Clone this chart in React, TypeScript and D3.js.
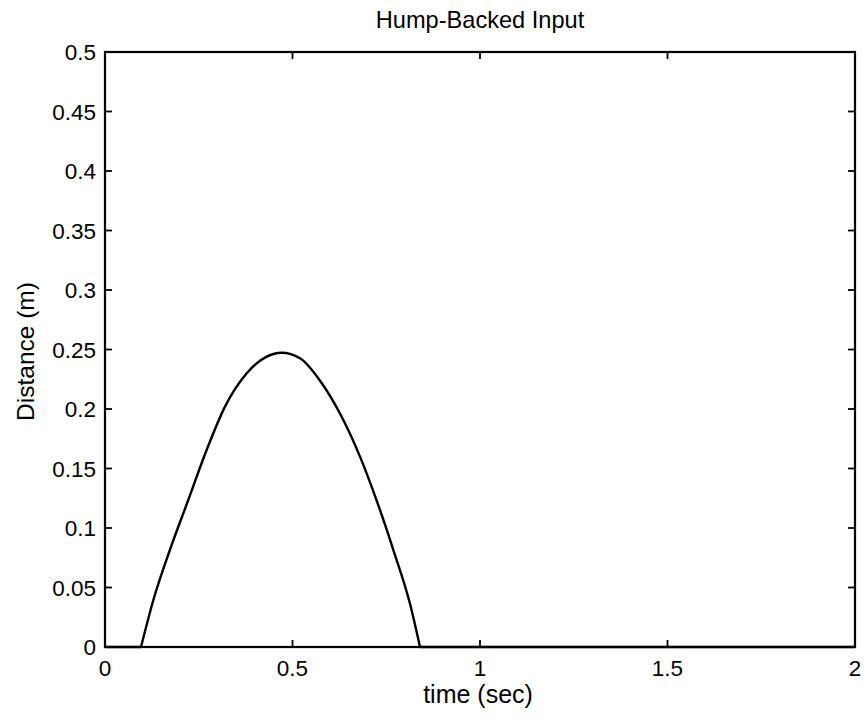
import React from "react";
import * as d3 from "d3";

const timeValues = [0, 0.096, 0.129, 0.173, 0.222, 0.271, 0.32, 0.378, 0.431, 0.471, 0.52, 0.573, 0.627, 0.68, 0.724, 0.769, 0.813, 0.84, 2];
const distanceValues = [0, 0, 0.0395, 0.0815, 0.1235, 0.1655, 0.202, 0.23, 0.244, 0.2473, 0.2426, 0.224, 0.196, 0.16, 0.1235, 0.0815, 0.0367, 0, 0];
const xTicks = [0, 0.5, 1, 1.5, 2];
const yTicks = [0, 0.05, 0.1, 0.15, 0.2, 0.25, 0.3, 0.35, 0.4, 0.45, 0.5];

const W = 868, H = 723;
const L = 105, R = 855, T = 52, B = 647;
const font = "'Liberation Sans', Arial, sans-serif";

export default function App() {
  const x = d3.scaleLinear().domain([0, 2]).range([L, R]);
  const y = d3.scaleLinear().domain([0, 0.5]).range([B, T]);
  const pts = timeValues.map((t, i) => [t, distanceValues[i]] as [number, number]);
  const n = pts.length;
  const hump = pts.slice(1, n - 1);
  const head = pts.slice(0, 2);
  const tail = pts.slice(n - 2);
  const curved = d3.line<[number, number]>().x(d => x(d[0])).y(d => y(d[1])).curve(d3.curveMonotoneX);
  const straight = d3.line<[number, number]>().x(d => x(d[0])).y(d => y(d[1]));
  const tl = 7;
  return (
    <svg width={W} height={H} style={{ position: "absolute", left: 0, top: 0, background: "#fff" }}>
      <rect x={0} y={0} width={W} height={H} fill="#fff" />
      <path d={straight(head) || ""} fill="none" stroke="#000" strokeWidth={2.4} />
      <path d={curved(hump) || ""} fill="none" stroke="#000" strokeWidth={2.4} strokeLinejoin="round" />
      <path d={straight(tail) || ""} fill="none" stroke="#000" strokeWidth={2.4} />
      <rect x={L} y={T} width={R - L} height={B - T} fill="none" stroke="#000" strokeWidth={2.2} />
      {xTicks.map(t => (
        <g key={"x" + t}>
          <line x1={x(t)} x2={x(t)} y1={B} y2={B - tl} stroke="#000" strokeWidth={1.8} />
          <line x1={x(t)} x2={x(t)} y1={T} y2={T + tl} stroke="#000" strokeWidth={1.8} />
          <text x={x(t)} y={676} textAnchor="middle" fontFamily={font} fontSize={22.5}>{String(t)}</text>
        </g>
      ))}
      {yTicks.map(t => (
        <g key={"y" + t}>
          <line x1={L} x2={L + tl} y1={y(t)} y2={y(t)} stroke="#000" strokeWidth={1.8} />
          <line x1={R} x2={R - tl} y1={y(t)} y2={y(t)} stroke="#000" strokeWidth={1.8} />
          <text x={96} y={y(t) + 8} textAnchor="end" fontFamily={font} fontSize={22.5}>{String(t)}</text>
        </g>
      ))}
      <text x={480} y={28} textAnchor="middle" fontFamily={font} fontSize={23.6}>Hump-Backed Input</text>
      <text x={478} y={703} textAnchor="middle" fontFamily={font} fontSize={25}>time (sec)</text>
      <text transform={`translate(34, ${(T + B) / 2 + 2}) rotate(-90)`} textAnchor="middle" fontFamily={font} fontSize={24.5}>Distance (m)</text>
    </svg>
  );
}
